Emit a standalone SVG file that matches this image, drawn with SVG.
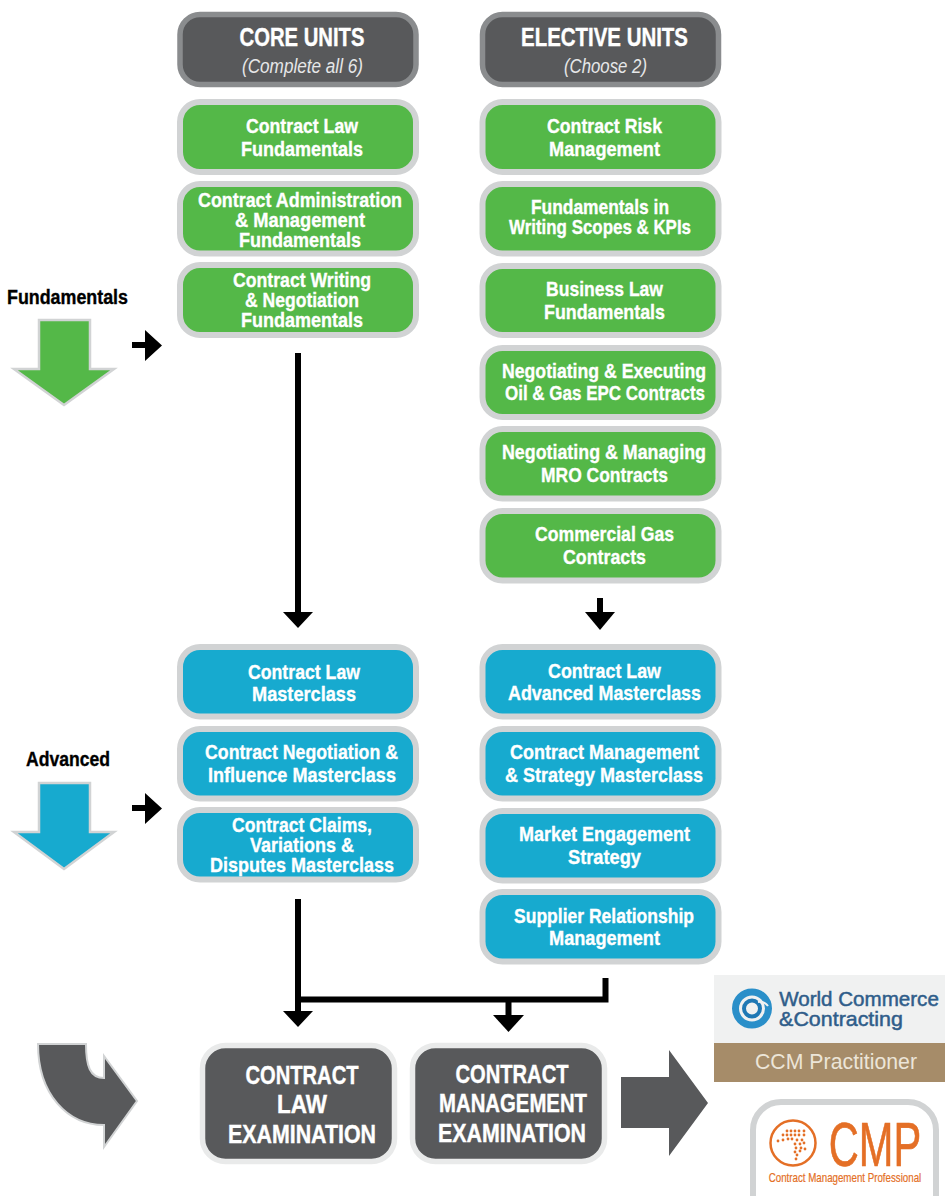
<svg xmlns="http://www.w3.org/2000/svg" width="945" height="1196" viewBox="0 0 945 1196">
<style>
text{font-family:"Liberation Sans",Arial,sans-serif;text-anchor:middle}
.t{font-size:20.5px;font-weight:700;fill:#fff;stroke:#fff;stroke-width:.35}
.h{font-size:26px;font-weight:700;fill:#fff;stroke:#fff;stroke-width:.4}
.s{font-size:20px;font-style:italic;fill:#e6e7e8}
.l{font-size:20px;font-weight:700;fill:#000;stroke:#000;stroke-width:.35}
.g{fill:#54b848;stroke:#d1d3d4;stroke-width:6}
.b{fill:#17aacf;stroke:#d1d3d4;stroke-width:6}
.d{fill:#58595b;stroke:#8a8c8e;stroke-width:5.5}
.e{fill:#58595b;stroke:#e9eaea;stroke-width:5.5}
.ln{fill:none;stroke:#000;stroke-width:6}
.o{fill:#e46f26}
</style>
<rect width="945" height="1196" fill="#fff"/>
<g id="connectors">
<path class="ln" d="M298 353V614"/><path d="M283 612H313L298 628Z"/>
<path class="ln" d="M600 598V614"/><path d="M585 612H615L600 630Z"/>
<path class="ln" d="M298 899V1013"/><path d="M283 1011H313L298 1027Z"/>
<path class="ln" d="M298 999.500H605.500V978" stroke-width="5"/>
<path class="ln" d="M508.500 1000V1017"/><path d="M493 1015H524L508.500 1032Z"/>
<path d="M132 342H145V330L162 345.500L145 361V348H132Z"/>
<path d="M132 805H145V793L162 808.500L145 824V811H132Z"/>
</g>
<g id="core-header"><rect class="d" x="180" y="14.500" width="236" height="70" rx="20"/><text class="h" x="302" y="46" textLength="125" lengthAdjust="spacingAndGlyphs">CORE UNITS</text><text class="s" x="302.500" y="73" textLength="121" lengthAdjust="spacingAndGlyphs">(Complete all 6)</text></g>
<g id="elective-header"><rect class="d" x="482.500" y="14.500" width="236" height="70" rx="20"/><text class="h" x="604.500" y="46" textLength="167" lengthAdjust="spacingAndGlyphs">ELECTIVE UNITS</text><text class="s" x="605.500" y="73" textLength="83" lengthAdjust="spacingAndGlyphs">(Choose 2)</text></g>

<g id="c1"><rect class="g" x="180" y="102" width="236" height="70" rx="20"/><text class="t" x="302" y="133" textLength="112" lengthAdjust="spacingAndGlyphs">Contract Law</text><text class="t" x="302" y="156" textLength="122" lengthAdjust="spacingAndGlyphs">Fundamentals</text></g>
<g id="c2"><rect class="g" x="180" y="184" width="236" height="69.500" rx="20"/><text class="t" x="300" y="207" textLength="204" lengthAdjust="spacingAndGlyphs">Contract Administration</text><text class="t" x="300" y="227" textLength="130" lengthAdjust="spacingAndGlyphs">&amp; Management</text><text class="t" x="300" y="247" textLength="122" lengthAdjust="spacingAndGlyphs">Fundamentals</text></g>
<g id="c3"><rect class="g" x="180" y="265" width="236" height="70" rx="20"/><text class="t" x="302" y="287" textLength="138" lengthAdjust="spacingAndGlyphs">Contract Writing</text><text class="t" x="302" y="307" textLength="114" lengthAdjust="spacingAndGlyphs">&amp; Negotiation</text><text class="t" x="302" y="327" textLength="122" lengthAdjust="spacingAndGlyphs">Fundamentals</text></g>

<g id="e1"><rect class="g" x="482.500" y="102" width="236" height="70" rx="20"/><text class="t" x="604.500" y="133" textLength="115" lengthAdjust="spacingAndGlyphs">Contract Risk</text><text class="t" x="604.500" y="156" textLength="111" lengthAdjust="spacingAndGlyphs">Management</text></g>
<g id="e2"><rect class="g" x="482.500" y="184" width="236" height="69.500" rx="20"/><text class="t" x="600" y="214" textLength="138" lengthAdjust="spacingAndGlyphs">Fundamentals in</text><text class="t" x="600" y="234" textLength="182" lengthAdjust="spacingAndGlyphs">Writing Scopes &amp; KPIs</text></g>
<g id="e3"><rect class="g" x="482.500" y="266" width="236" height="69" rx="20"/><text class="t" x="604.500" y="296" textLength="117" lengthAdjust="spacingAndGlyphs">Business Law</text><text class="t" x="604.500" y="319" textLength="121" lengthAdjust="spacingAndGlyphs">Fundamentals</text></g>
<g id="e4"><rect class="g" x="482.500" y="348" width="236" height="69" rx="20"/><text class="t" x="604" y="378" textLength="204" lengthAdjust="spacingAndGlyphs">Negotiating &amp; Executing</text><text class="t" x="605" y="400" textLength="200" lengthAdjust="spacingAndGlyphs">Oil &amp; Gas EPC Contracts</text></g>
<g id="e5"><rect class="g" x="482.500" y="429" width="236" height="69.500" rx="20"/><text class="t" x="604" y="459" textLength="204" lengthAdjust="spacingAndGlyphs">Negotiating &amp; Managing</text><text class="t" x="604.500" y="482" textLength="127" lengthAdjust="spacingAndGlyphs">MRO Contracts</text></g>
<g id="e6"><rect class="g" x="482.500" y="511" width="236" height="69.500" rx="20"/><text class="t" x="604.500" y="541" textLength="139" lengthAdjust="spacingAndGlyphs">Commercial Gas</text><text class="t" x="604.500" y="564" textLength="83" lengthAdjust="spacingAndGlyphs">Contracts</text></g>

<g id="c4"><rect class="b" x="180" y="647" width="236" height="69.500" rx="20"/><text class="t" x="304" y="679" textLength="112" lengthAdjust="spacingAndGlyphs">Contract Law</text><text class="t" x="304" y="701" textLength="104" lengthAdjust="spacingAndGlyphs">Masterclass</text></g>
<g id="c5"><rect class="b" x="180" y="729" width="236" height="69.500" rx="20"/><text class="t" x="301.500" y="759" textLength="193" lengthAdjust="spacingAndGlyphs">Contract Negotiation &amp;</text><text class="t" x="302" y="782" textLength="188" lengthAdjust="spacingAndGlyphs">Influence Masterclass</text></g>
<g id="c6"><rect class="b" x="180" y="810" width="236" height="69.500" rx="20"/><text class="t" x="302" y="832" textLength="140" lengthAdjust="spacingAndGlyphs">Contract Claims,</text><text class="t" x="302" y="852" textLength="104" lengthAdjust="spacingAndGlyphs">Variations &amp;</text><text class="t" x="302" y="872" textLength="184" lengthAdjust="spacingAndGlyphs">Disputes Masterclass</text></g>

<g id="e7"><rect class="b" x="482.500" y="647" width="236" height="69.500" rx="20"/><text class="t" x="604.500" y="678" textLength="113" lengthAdjust="spacingAndGlyphs">Contract Law</text><text class="t" x="604.500" y="700" textLength="193" lengthAdjust="spacingAndGlyphs">Advanced Masterclass</text></g>
<g id="e8"><rect class="b" x="482.500" y="729" width="236" height="69.500" rx="20"/><text class="t" x="604.500" y="759" textLength="189" lengthAdjust="spacingAndGlyphs">Contract Management</text><text class="t" x="604" y="782" textLength="198" lengthAdjust="spacingAndGlyphs">&amp; Strategy Masterclass</text></g>
<g id="e9"><rect class="b" x="482.500" y="811" width="236" height="69.500" rx="20"/><text class="t" x="604.500" y="841" textLength="171" lengthAdjust="spacingAndGlyphs">Market Engagement</text><text class="t" x="604.500" y="864" textLength="73" lengthAdjust="spacingAndGlyphs">Strategy</text></g>
<g id="e10"><rect class="b" x="482.500" y="892" width="236" height="69.500" rx="20"/><text class="t" x="604" y="923" textLength="180" lengthAdjust="spacingAndGlyphs">Supplier Relationship</text><text class="t" x="604.500" y="945" textLength="111" lengthAdjust="spacingAndGlyphs">Management</text></g>

<g id="exam-law"><rect class="e" x="202.500" y="1045.500" width="192" height="116" rx="23"/><text class="h" x="302" y="1084" textLength="113" lengthAdjust="spacingAndGlyphs">CONTRACT</text><text class="h" x="302" y="1113" textLength="50" lengthAdjust="spacingAndGlyphs">LAW</text><text class="h" x="302" y="1143" textLength="148" lengthAdjust="spacingAndGlyphs">EXAMINATION</text></g>
<g id="exam-mgmt"><rect class="e" x="412.500" y="1045.500" width="192" height="116" rx="23"/><text class="h" x="512" y="1083" textLength="113" lengthAdjust="spacingAndGlyphs">CONTRACT</text><text class="h" x="513" y="1112" textLength="148" lengthAdjust="spacingAndGlyphs">MANAGEMENT</text><text class="h" x="512" y="1142" textLength="148" lengthAdjust="spacingAndGlyphs">EXAMINATION</text></g>

<g id="fundamentals"><text class="l" x="67.500" y="304" textLength="121" lengthAdjust="spacingAndGlyphs">Fundamentals</text><path d="M39 320H90V369H114L64 405L14 369H39Z" fill="#54b848" stroke="#d1d3d4" stroke-width="2.500"/></g>
<g id="advanced"><text class="l" x="68" y="766" textLength="84" lengthAdjust="spacingAndGlyphs">Advanced</text><path d="M39 783H90V832H114L64 869L14 832H39Z" fill="#17aacf" stroke="#d1d3d4" stroke-width="2.500"/></g>
<g id="curved-arrow"><path d="M38 1044H86C86 1066 90 1078 104 1078V1056L137 1101L104 1147V1125C68 1125 38 1095 38 1044Z" fill="#58595b" stroke="#d1d3d4" stroke-width="2"/></g>
<g id="out-arrow"><path d="M621 1077H669V1050L708 1103L669 1156V1128H621Z" fill="#58595b"/></g>

<g id="wcc-logo">
<rect x="714" y="975" width="231" height="68" fill="#f0f1f1"/>
<rect x="714" y="1043" width="231" height="39" fill="#a68c69"/>
<circle cx="752" cy="1008.500" r="16.500" fill="none" stroke="#2a8fc9" stroke-width="7"/>
<circle cx="752" cy="1008.500" r="8" fill="none" stroke="#1f78b4" stroke-width="4"/>
<path d="M758 1002A10 10 0 0 1 768 1006" fill="none" stroke="#f0f1f1" stroke-width="2"/>
<text transform="translate(859 1006) scale(.98 1)" font-size="21" fill="#2f5d8a" stroke="#2f5d8a" stroke-width=".5">World Commerce</text>
<text transform="translate(841 1026) scale(1.02 1)" font-size="21" fill="#2f5d8a" stroke="#2f5d8a" stroke-width=".5">&amp;Contracting</text>
<text x="836" y="1069" font-size="22" fill="#ece5d8" textLength="162" lengthAdjust="spacingAndGlyphs">CCM Practitioner</text>
</g>
<g id="cmp-logo">
<rect x="753" y="1102" width="183" height="130" rx="28" fill="#fff" stroke="#d1d3d4" stroke-width="6"/>
<circle cx="793" cy="1143" r="22.500" fill="none" stroke="#e46f26" stroke-width="2.500"/>
<g class="o">
<circle cx="787" cy="1131" r="1.400"/><circle cx="791" cy="1131" r="1.400"/><circle cx="795" cy="1131" r="1.400"/><circle cx="799" cy="1131" r="1.400"/><circle cx="804" cy="1131" r="1.400"/>
<circle cx="783" cy="1135" r="1.400"/><circle cx="787" cy="1135" r="1.400"/><circle cx="791" cy="1135" r="1.400"/><circle cx="795" cy="1135" r="1.400"/><circle cx="799" cy="1135" r="1.400"/><circle cx="804" cy="1135" r="1.400"/>
<circle cx="778" cy="1141" r="1.400"/><circle cx="783" cy="1140" r="1.400"/><circle cx="788" cy="1139" r="1.400"/><circle cx="792" cy="1139" r="1.400"/><circle cx="797" cy="1140" r="1.400"/><circle cx="802" cy="1140" r="1.400"/>
<circle cx="795" cy="1144" r="1.400"/><circle cx="800" cy="1144" r="1.400"/><circle cx="804" cy="1143" r="1.400"/>
<circle cx="796" cy="1148" r="1.400"/><circle cx="801" cy="1148" r="1.400"/>
<circle cx="795" cy="1152" r="1.400"/><circle cx="800" cy="1151" r="1.400"/><circle cx="805" cy="1149" r="1.400"/>
<circle cx="797" cy="1155" r="1.400"/><circle cx="796" cy="1159" r="1.400"/>
</g>
<text transform="translate(875 1166) scale(.66 1)" font-size="63" fill="#e46f26" stroke="#e46f26" stroke-width=".7">CMP</text>
<text transform="translate(845 1182) scale(.78 1)" font-size="12.500" fill="#e46f26" stroke="#e46f26" stroke-width=".2">Contract Management Professional</text>
</g>
</svg>
